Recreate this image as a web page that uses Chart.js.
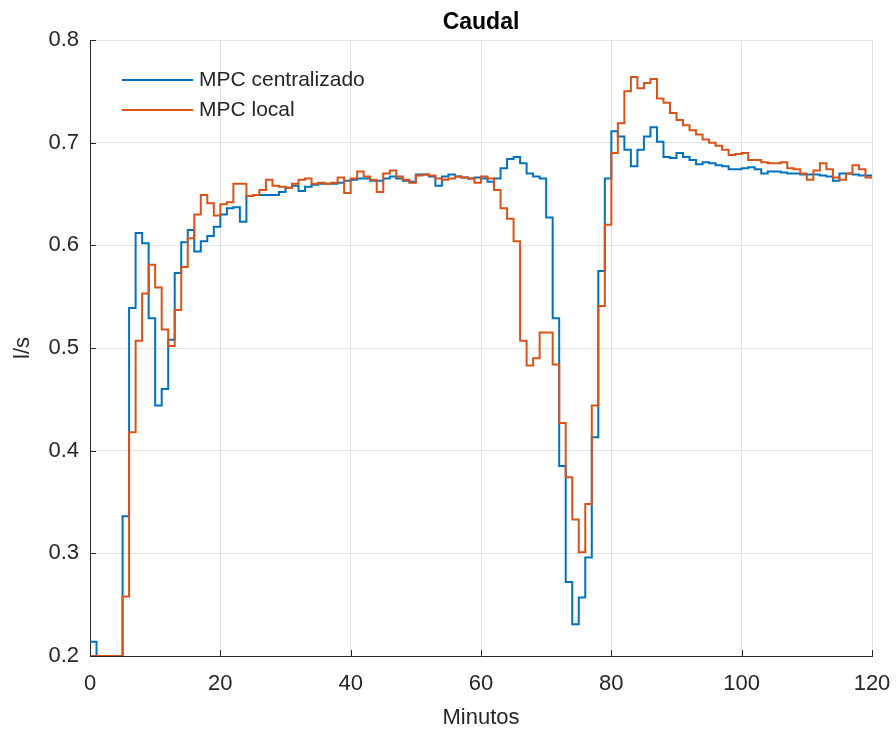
<!doctype html>
<html lang="es">
<head>
  <meta charset="utf-8">
  <title>Caudal</title>
  <script src="https://cdn.jsdelivr.net/npm/chart.js"></script>
  <style>
    html, body { margin: 0; padding: 0; background: #fff; }
    #contenedor { width: 896px; height: 729px; position: relative; }
  </style>
</head>
<body>
  <div id="contenedor">
    <canvas id="caudalChart"></canvas>
  </div>
  <script>
    // periodo de muestreo en minutos
    var tiempoMuestreo = 1;

    // caudal (l/s) con MPC centralizado, una muestra por minuto
    var caudalCentralizado = [
      0.214, 0.200, 0.200, 0.200, 0.200, 0.336, 0.539, 0.612, 0.602, 0.529,
      0.444, 0.460, 0.508, 0.573, 0.603, 0.615, 0.594, 0.604, 0.609, 0.618,
      0.630, 0.636, 0.637, 0.623, 0.648, 0.649, 0.649, 0.649, 0.649, 0.652,
      0.656, 0.658, 0.653, 0.657, 0.659, 0.660, 0.660, 0.660, 0.661, 0.663,
      0.664, 0.665, 0.665, 0.663, 0.663, 0.665, 0.667, 0.665, 0.663, 0.662,
      0.669, 0.669, 0.667, 0.658, 0.667, 0.669, 0.667, 0.666, 0.665, 0.666,
      0.665, 0.662, 0.665, 0.675, 0.684, 0.686, 0.680, 0.670, 0.667, 0.665,
      0.627, 0.529, 0.385, 0.272, 0.231, 0.257, 0.296, 0.413, 0.575, 0.665,
      0.711, 0.706, 0.693, 0.677, 0.693, 0.706, 0.715, 0.701, 0.686, 0.685,
      0.690, 0.686, 0.683, 0.679, 0.681, 0.680, 0.678, 0.677, 0.674, 0.674,
      0.675, 0.676, 0.674, 0.670, 0.672, 0.672, 0.671, 0.670, 0.670, 0.669,
      0.669, 0.669, 0.668, 0.667, 0.663, 0.670, 0.670, 0.669, 0.668, 0.668,
      0.668
    ];

    // caudal (l/s) con MPC local
    var caudalLocal = [
      0.200, 0.200, 0.200, 0.200, 0.200, 0.258, 0.418, 0.507, 0.553, 0.581,
      0.559, 0.518, 0.502, 0.537, 0.579, 0.607, 0.630, 0.649, 0.641, 0.629,
      0.640, 0.642, 0.660, 0.660, 0.648, 0.649, 0.654, 0.664, 0.658, 0.657,
      0.656, 0.660, 0.664, 0.665, 0.660, 0.661, 0.660, 0.661, 0.666, 0.651,
      0.665, 0.672, 0.667, 0.664, 0.652, 0.670, 0.673, 0.667, 0.664, 0.661,
      0.668, 0.669, 0.668, 0.665, 0.664, 0.665, 0.667, 0.666, 0.665, 0.661,
      0.667, 0.665, 0.654, 0.636, 0.626, 0.604, 0.507, 0.483, 0.490, 0.515,
      0.515, 0.484, 0.427, 0.374, 0.333, 0.301, 0.348, 0.444, 0.541, 0.620,
      0.690, 0.719, 0.750, 0.764, 0.753, 0.758, 0.762, 0.743, 0.739, 0.729,
      0.722, 0.717, 0.712, 0.708, 0.703, 0.700, 0.697, 0.693, 0.688, 0.689,
      0.690, 0.683, 0.683, 0.681, 0.680, 0.680, 0.681, 0.675, 0.674, 0.670,
      0.664, 0.673, 0.680, 0.674, 0.666, 0.664, 0.670, 0.678, 0.674, 0.666,
      0.666
    ];

    var ticksMinutos = [0, 20, 40, 60, 80, 100, 120];
    var ticksCaudal = [0.2, 0.3, 0.4, 0.5, 0.6, 0.7, 0.8];

    var fuente = '"Liberation Sans", Arial, Helvetica, sans-serif';
    var colorEjes = '#262626';
    var colorRejilla = '#e3e3e3';

    function aPuntos(serie) {
      return serie.map(function (v, i) { return { x: i * tiempoMuestreo, y: v }; });
    }

    // leyenda dibujada a mano, arriba a la izquierda dentro del area
    var leyendaMatlab = {
      id: 'leyendaMatlab',
      afterDatasetsDraw: function (chart) {
        var ctx = chart.ctx;
        var area = chart.chartArea;
        ctx.save();
        ctx.font = '21px ' + fuente;
        ctx.textBaseline = 'middle';
        chart.data.datasets.forEach(function (ds, i) {
          var y = area.top + 40 + i * 30;
          ctx.strokeStyle = ds.borderColor;
          ctx.lineWidth = 2;
          ctx.beginPath();
          ctx.moveTo(area.left + 32, y);
          ctx.lineTo(area.left + 103, y);
          ctx.stroke();
          ctx.fillStyle = colorEjes;
          ctx.fillText(ds.label, area.left + 109, y);
        });
        ctx.restore();
      }
    };

    // marcas de graduacion hacia dentro, como en matlab
    var marcasInternas = {
      id: 'marcasInternas',
      afterDraw: function (chart) {
        var ctx = chart.ctx;
        var area = chart.chartArea;
        var sx = chart.scales.x, sy = chart.scales.y;
        ctx.save();
        ctx.strokeStyle = colorEjes;
        ctx.lineWidth = 1;
        ctx.beginPath();
        ticksMinutos.forEach(function (t) {
          var px = Math.round(sx.getPixelForValue(t)) + 0.5;
          ctx.moveTo(px, area.bottom);
          ctx.lineTo(px, area.bottom - 6);
        });
        ticksCaudal.forEach(function (c) {
          var py = Math.round(sy.getPixelForValue(c)) + 0.5;
          ctx.moveTo(area.left, py);
          ctx.lineTo(area.left + 6, py);
        });
        ctx.stroke();
        ctx.restore();
      }
    };

    var data = {
      datasets: [
        {
          label: 'MPC centralizado',
          data: aPuntos(caudalCentralizado),
          borderColor: '#0072BD',
          backgroundColor: '#0072BD',
          borderWidth: 2,
          pointRadius: 0,
          stepped: 'before',
          fill: false,
          order: 1
        },
        {
          label: 'MPC local',
          data: aPuntos(caudalLocal),
          borderColor: '#D95319',
          backgroundColor: '#D95319',
          borderWidth: 2,
          pointRadius: 0,
          stepped: 'before',
          fill: false,
          order: 0
        }
      ]
    };

    var config = {
      type: 'line',
      data: data,
      plugins: [leyendaMatlab, marcasInternas],
      options: {
        responsive: true,
        maintainAspectRatio: false,
        animation: false,
        layout: { padding: { top: 0, right: 24, bottom: 0, left: 0 } },
        plugins: {
          legend: { display: false },
          tooltip: { enabled: false },
          title: {
            display: true,
            text: 'Caudal',
            fullSize: false,
            color: '#000',
            font: { family: fuente, size: 23, weight: 'bold' },
            padding: { top: 9, bottom: 3.4 }
          }
        },
        scales: {
          x: {
            type: 'linear',
            min: 0,
            max: 120,
            afterBuildTicks: function (scale) {
              scale.ticks = ticksMinutos.map(function (v) { return { value: v }; });
            },
            afterFit: function (scale) {
              scale.height = 73;
              scale.paddingLeft = 0;
              scale.paddingRight = 0;
            },
            grid: { color: colorRejilla, drawTicks: false, lineWidth: 1 },
            border: { display: true, color: colorEjes, width: 1 },
            ticks: {
              color: colorEjes,
              padding: 15,
              maxRotation: 0,
              font: { family: fuente, size: 22 }
            },
            title: {
              display: true,
              text: 'Minutos',
              color: colorEjes,
              padding: { top: 0, bottom: -2 },
              font: { family: fuente, size: 22 }
            }
          },
          y: {
            type: 'linear',
            min: 0.2,
            max: 0.8,
            afterBuildTicks: function (scale) {
              scale.ticks = ticksCaudal.map(function (v) { return { value: v }; });
            },
            afterFit: function (scale) {
              scale.width = 90;
              scale.paddingTop = 0;
              scale.paddingBottom = 0;
            },
            grid: { color: colorRejilla, drawTicks: false, lineWidth: 1 },
            border: { display: true, color: colorEjes, width: 1 },
            ticks: {
              color: colorEjes,
              padding: 11,
              font: { family: fuente, size: 22 },
              callback: function (v) { return v.toFixed(1); }
            },
            title: {
              display: true,
              text: 'l/s',
              color: colorEjes,
              padding: { top: 10, bottom: 0 },
              font: { family: fuente, size: 22 }
            }
          }
        }
      }
    };

    new Chart(document.getElementById('caudalChart'), config);
  </script>
</body>
</html>
